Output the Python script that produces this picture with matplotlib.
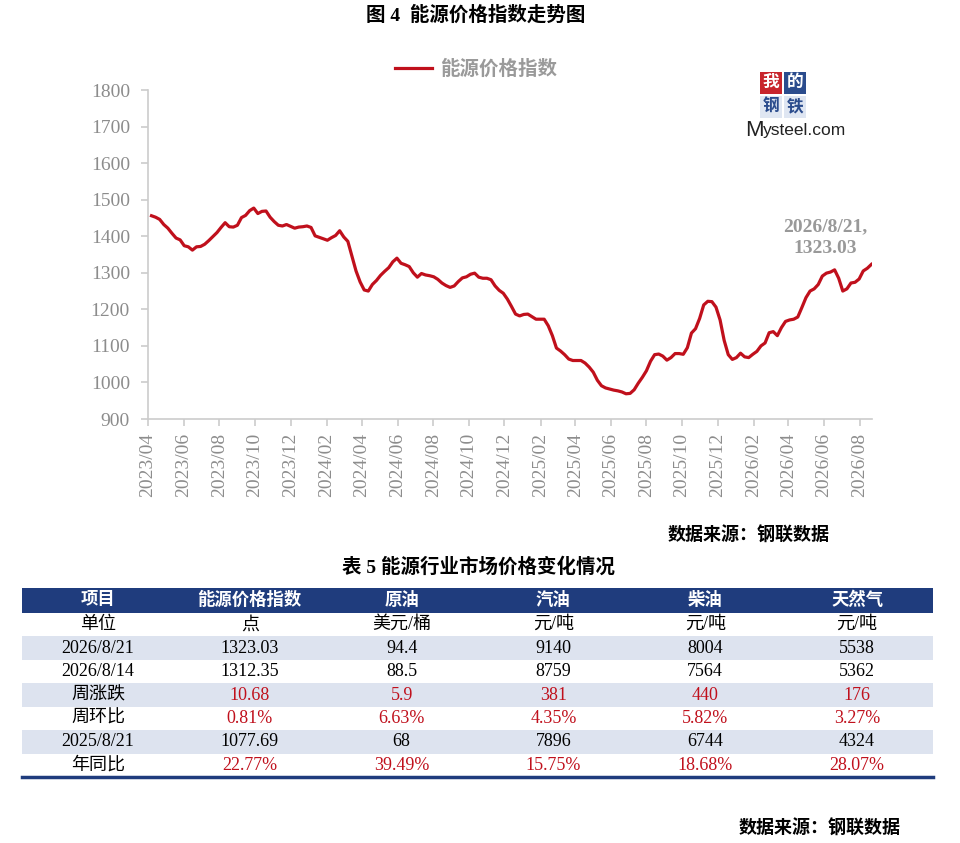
import numpy as np
import pandas as pd
import matplotlib
matplotlib.use('Agg')
from matplotlib import pyplot as plt
import matplotlib.dates as mdates
from matplotlib.patches import Rectangle

plt.rcParams['font.family'] = ['Liberation Serif', 'Noto Sans CJK SC']

# weekly energy price index (2023/04/07 .. 2026/08/21)
index_values = [
    1456, 1452, 1446, 1432, 1422, 1408, 1395, 1390, 1374, 1371,
    1362, 1371, 1372, 1378, 1388, 1399, 1410, 1424, 1437, 1426,
    1425, 1430, 1451, 1457, 1470, 1477, 1462, 1468, 1469, 1452,
    1440, 1430, 1428, 1432, 1427, 1422, 1425, 1426, 1428, 1424,
    1401, 1397, 1393, 1389, 1396, 1402, 1415, 1398, 1386, 1345,
    1305, 1275, 1253, 1250, 1268, 1279, 1293, 1304, 1314, 1330,
    1340, 1326, 1322, 1317, 1300, 1288, 1298, 1294, 1292, 1289,
    1282, 1272, 1265, 1260, 1264, 1276, 1286, 1289, 1296, 1299,
    1288, 1285, 1285, 1281, 1264, 1252, 1244, 1228, 1208, 1187,
    1182, 1186, 1187, 1180, 1173, 1173, 1173, 1155, 1128, 1094,
    1086, 1076, 1064, 1060, 1060, 1060, 1053, 1042, 1028, 1006,
    991, 985, 982, 979, 977, 974, 969, 970, 980, 998,
    1014, 1032, 1058, 1076, 1077.69, 1072, 1061, 1068, 1079, 1079,
    1077, 1095, 1135, 1147, 1175, 1212, 1222, 1221, 1206, 1171,
    1115, 1076, 1063, 1068, 1080, 1070, 1068, 1077, 1085, 1100,
    1108, 1136, 1139, 1128, 1150, 1167, 1171, 1173, 1179, 1205,
    1232, 1250, 1256, 1268, 1291, 1299, 1302, 1308, 1285, 1250,
    1256, 1272, 1274, 1283, 1305, 1312.35, 1323.03,
]
dates = pd.date_range(end='2026-08-21', periods=len(index_values), freq='W-FRI')
last_label = '2026/8/21,\n1323.03'

# table data
col_names = ['项目', '能源价格指数', '原油', '汽油', '柴油', '天然气']
row_names = ['单位', '2026/8/21', '2026/8/14', '周涨跌', '周环比', '2025/8/21', '年同比']
row_units = ['点', '美元/桶', '元/吨', '元/吨', '元/吨']
row_now = ['1323.03', '94.4', '9140', '8004', '5538']
row_prev = ['1312.35', '88.5', '8759', '7564', '5362']
row_wchg = ['10.68', '5.9', '381', '440', '176']
row_wpct = ['0.81%', '6.63%', '4.35%', '5.82%', '3.27%']
row_year = ['1077.69', '68', '7896', '6744', '4324']
row_ypct = ['22.77%', '39.49%', '15.75%', '18.68%', '28.07%']
table_rows = [row_units, row_now, row_prev, row_wchg, row_wpct, row_year, row_ypct]
red_rows = [3, 4, 6]

W, H = 960, 843
RED = '#c0101c'
GRAY = '#8c8c8c'
BLUE = '#1f3c7d'
BAND = '#dde3ef'


def fx(px):
    return px / W


def fy(py):
    return 1 - py / H


fig = plt.figure(figsize=(W / 100, H / 100), dpi=100)

fig.text(fx(476), fy(15), '图 4  能源价格指数走势图', ha='center', va='center',
         fontsize=14, fontweight='bold')

# chart
ax = fig.add_axes([fx(148), fy(419), (872 - 148) / W, (419 - 90) / H])
ax.plot(dates, index_values, color=RED, lw=2.3, label='能源价格指数')
ax.set_ylim(900, 1800)
ax.set_yticks(np.arange(900, 1801, 100))
ax.set_xlim(pd.Timestamp('2023-04-01'), pd.Timestamp('2026-08-22'))
ax.xaxis.set_major_locator(mdates.MonthLocator(bymonth=[2, 4, 6, 8, 10, 12]))
ax.xaxis.set_major_formatter(mdates.DateFormatter('%Y/%m'))
for s in ['top', 'right']:
    ax.spines[s].set_visible(False)
for s in ['left', 'bottom']:
    ax.spines[s].set_color('#cccccc')
    ax.spines[s].set_linewidth(1.2)
ax.tick_params(axis='both', colors='#cccccc', labelcolor=GRAY, labelsize=14,
               length=5, width=1.2)
ax.tick_params(axis='y', pad=8)
ax.tick_params(axis='x', pad=5)
plt.setp(ax.get_xticklabels(), rotation=90, ha='center', va='top')

ax.annotate(last_label, xy=(dates[-1], index_values[-1]), xytext=(-33, 19),
            textcoords='offset points', ha='center', va='center',
            fontsize=14, fontweight='bold', color='#999999', linespacing=1.35)

leg = ax.legend(loc='center', bbox_to_anchor=(fx(476), fy(69)),
                bbox_transform=fig.transFigure, frameon=False,
                handlelength=1.9, handletextpad=0.4,
                prop={'size': 14, 'weight': 'bold'})
for t in leg.get_texts():
    t.set_color('#9a9a9a')

# logo
logo = [('我', 760, 72, '#c8252c', 'white'), ('的', 784, 72, '#2b4c8d', 'white'),
        ('钢', 760, 96, '#dfe6f2', '#2b4c8d'), ('铁', 784, 96, '#dfe6f2', '#2b4c8d')]
for ch, x0, y0, bg, fg in logo:
    fig.add_artist(Rectangle((fx(x0), fy(y0 + 22)), 22 / W, 22 / H,
                             transform=fig.transFigure, color=bg, lw=0))
    fig.text(fx(x0 + 11), fy(y0 + 11), ch, ha='center', va='center',
             fontsize=12, fontweight='bold', color=fg)
fig.text(fx(745), fy(130), 'M', ha='left', va='center', fontsize=16,
         family='Liberation Sans', color='#222222')
fig.text(fx(763), fy(131), 'ysteel.com', ha='left', va='center', fontsize=12.5,
         family='Liberation Sans', color='#222222')

fig.text(fx(749), fy(536), '数据来源：钢联数据', ha='center', va='center',
         fontsize=13, fontweight='bold')

# table
fig.text(fx(478), fy(567), '表 5 能源行业市场价格变化情况', ha='center', va='center',
         fontsize=14, fontweight='bold')

tw, th = 933 - 22, 777 - 588
tax = fig.add_axes([fx(22), fy(777), tw / W, th / H])
tax.set_xlim(0, tw)
tax.set_ylim(th, 0)
tax.axis('off')
hdr = 25
rh = (th - hdr) / len(row_names)
cw = tw / len(col_names)

tax.add_patch(Rectangle((0, 0), tw, hdr, color=BLUE, lw=0))
for j, name in enumerate(col_names):
    tax.text(cw * (j + 0.5), hdr / 2, name, ha='center', va='center',
             fontsize=12.5, fontweight='bold', color='white')

for i, (label, vals) in enumerate(zip(row_names, table_rows)):
    y0 = hdr + i * rh
    if i % 2 == 1:
        tax.add_patch(Rectangle((0, y0), tw, rh, color=BAND, lw=0))
    tax.text(cw * 0.5, y0 + rh / 2, label, ha='center', va='center',
             fontsize=13, color='black')
    c = RED if i in red_rows else 'black'
    for j, v in enumerate(vals):
        tax.text(cw * (j + 1.5), y0 + rh / 2, v, ha='center', va='center',
                 fontsize=13, color=c)

tax.plot([0, tw], [th, th], color=BLUE, lw=2.5, clip_on=False)

fig.text(fx(820), fy(829), '数据来源：钢联数据', ha='center', va='center',
         fontsize=13, fontweight='bold')

fig.savefig('out.png', dpi=100)
